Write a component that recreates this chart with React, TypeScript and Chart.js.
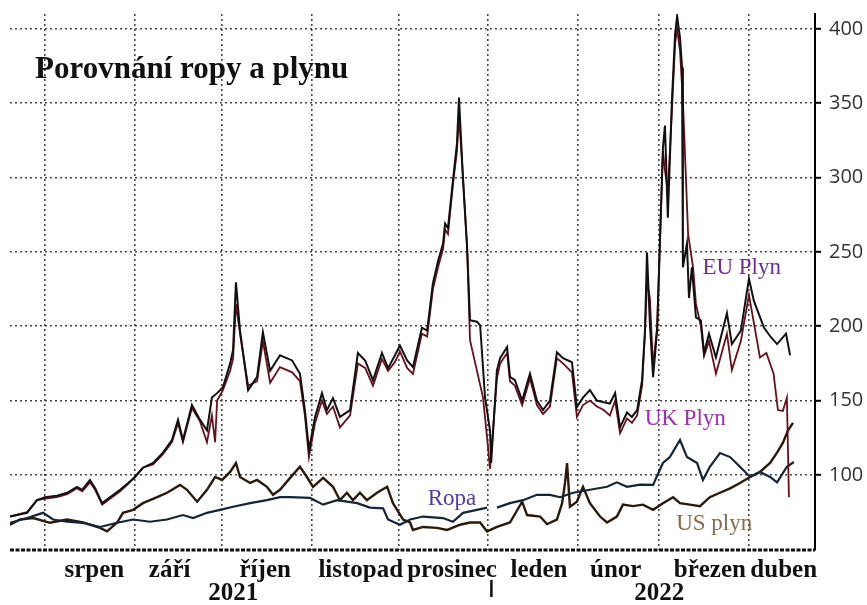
import { useEffect, useRef } from 'react';
import { Chart, registerables } from 'chart.js';

Chart.register(...registerables);

// x values are days counted from 1 July 2021
const titleText = 'Porovnání ropy a plynu';
const monthStartDays = [31, 62, 92, 123, 153, 184, 215, 243, 274];
const monthLabels = ['srpen', 'září', 'říjen', 'listopad', 'prosinec', 'leden', 'únor', 'březen', 'duben'];
const monthLabelDays = [48, 74, 107, 140, 171.5, 201.5, 228, 260.5, 286];
const yearLabels = ['2021', '2022'];
const yearLabelDays = [96, 243];
const yearBreakDay = 185;
const yTicks = [100, 150, 200, 250, 300, 350, 400];

const euDays = [18.9, 24.8, 28.2, 31, 35.1, 38.6, 42, 43.8, 46.5, 48.3,
  50.7, 53.4, 56.9, 59.7, 62.1, 64.8, 68.3, 71.7, 74.8, 76.9,
  78.6, 81.7, 84.5, 86.9, 88.6, 90.4, 92.4, 94.9, 95.9, 96.9,
  98.3, 101.1, 104.2, 106.2, 108.7, 112.1, 116.3, 119, 120.7, 122.1,
  124.2, 126.6, 128.3, 130.4, 132.8, 136.3, 139, 141.5, 144.2, 147.3,
  149.4, 151.8, 153.5, 156, 158, 161.1, 162.9, 164.9, 166.7, 168.4,
  169.1, 170.1, 171.8, 173.2, 173.9, 175.3, 176.7, 177.7, 180.1, 181.2,
  182.9, 184.6, 185, 187, 188.1, 190.5, 191.5, 193.2, 195.7, 198.4,
  200.8, 202.9, 205.3, 207.7, 209.8, 212.9, 214.6, 216.7, 219.1, 221.5,
  223.6, 226, 227.8, 229.5, 231.9, 233.6, 235.4, 237.1, 238.1, 238.8,
  239.8, 240.9, 242.3, 244.3, 245, 246, 247.4, 248.5, 249.2, 250.2,
  250.9, 251.2, 252.6, 253.3, 254.3, 255.7, 257.4, 258.5, 260.2, 262.6,
  264.3, 266.4, 268.1, 271.2, 274, 275.7, 279.2, 281.6, 283.7, 286.8,
  288.2];
const euValues = [72, 74.5, 83, 85, 86, 88, 92, 90, 96.6, 91,
  81, 85, 90, 94.6, 98.6, 104.7, 108, 115, 123.5, 137,
  123.5, 147, 137, 130, 152, 155, 159, 175, 184, 229.5,
  197, 157, 166, 196, 170, 180.5, 177, 168, 143.6, 116.8,
  139, 155, 143.6, 151.6, 139, 143.6, 182, 177, 163.7, 182,
  171.8, 180.5, 187, 177, 172.5, 199, 197, 229, 244, 255.6,
  269, 266, 298, 322.8, 353.8, 298, 253, 204, 203, 200.6,
  152, 130, 108, 170.5, 178.5, 186, 166, 163.7, 150, 168,
  150, 143.6, 150, 182.5, 178.5, 175.8, 145.6, 152, 157, 150,
  149, 148, 155, 132, 142, 139, 143.6, 163.7, 197, 249.6,
  202, 165.8, 197, 320, 335, 273, 351.6, 396.5, 408.6, 394,
  374, 239.6, 255.6, 219, 239.6, 206, 204, 182, 195, 179,
  192.6, 208.7, 188, 197, 232, 217, 199, 192.6, 188, 195,
  180.5];

const ukDays = [18.9, 24.8, 28.2, 31, 35.1, 38.6, 42, 43.8, 46.5, 48.3,
  50.7, 53.4, 56.9, 59.7, 62.1, 64.8, 68.3, 71.7, 74.8, 76.9,
  78.6, 81.7, 84.5, 86.9, 88.6, 89.7, 90.4, 92.4, 94.9, 95.9,
  96.9, 98.3, 101.1, 104.2, 106.2, 108.7, 112.1, 116.3, 119, 120.7,
  122.1, 124.2, 126.6, 128.3, 130.4, 132.8, 136.3, 139, 141.5, 144.2,
  147.3, 149.4, 151.8, 153.5, 156, 158, 161.1, 162.9, 164.9, 166.7,
  168.4, 169.1, 170.1, 171.8, 173.2, 173.9, 175.3, 176.7, 177.7, 180.1,
  182.2, 183.9, 184.6, 187, 188.1, 190.5, 191.5, 193.2, 195.7, 198.4,
  200.8, 202.9, 205.3, 207.7, 209.8, 212.9, 214.6, 216.7, 219.1, 221.5,
  223.6, 226, 227.8, 229.5, 231.9, 233.6, 235.4, 237.1, 238.1, 238.8,
  239.8, 240.9, 242.3, 244.3, 245, 246, 247.4, 248.5, 249.2, 250.2,
  251.2, 253, 254.7, 255.7, 257.4, 258.5, 260.2, 262.6, 264.3, 266.4,
  268.1, 271.2, 274, 277.8, 280, 282.5, 284, 285.7, 287.1, 287.8];
const ukValues = [72, 75, 83, 84, 85, 87, 91, 89, 95, 90,
  80, 84, 89, 94, 99, 105, 107, 114, 122, 135,
  122, 145, 136, 122, 140, 122, 150, 157, 170, 178,
  215, 195, 160, 163, 190, 162, 172.5, 169, 163, 140,
  112, 135, 150, 141, 146, 132, 140, 175, 172, 160,
  178, 170, 176, 183, 172, 168, 195, 193, 225, 240,
  252, 265, 262, 295, 318, 342, 300, 253, 190.6, 170,
  152, 119, 104, 165, 175, 182, 163, 160, 147, 165,
  147, 141, 146, 178.5, 175, 169, 139, 147, 150, 146,
  144, 140, 150, 128, 138, 135, 140, 160, 195, 230,
  219, 172.5, 200, 318, 305, 290, 345, 390, 400, 385,
  351.6, 262, 239.6, 215, 200, 180, 190, 168, 180, 195,
  170.5, 190, 221, 179, 182, 168, 143.6, 143, 152, 85];

const ropaDays = [18.9, 24.8, 30.3, 33.8, 38.6, 44.1, 50, 55.9, 61.4, 67.2,
  73.1, 78.6, 82.1, 86.9, 91.4, 95.9, 101.8, 107.6, 112.1, 115.6,
  122.5, 127, 131.8, 138.7, 143.2, 147.7, 149.4, 153.5, 157, 161.5,
  168.4, 171.8, 175.3, 180.1, 183.6, 185.5, 187, 191.5, 196, 200.8,
  205.3, 208.8, 213.3, 219.1, 225, 228.4, 231.9, 236.4, 240.9, 244.3,
  246.7, 250.2, 252.6, 256.1, 258.1, 260.5, 264, 267.5, 270.9, 274.4,
  277.8, 281.3, 283.7, 287.1, 289.5];
const ropaValues = [67.8, 71, 74.5, 70, 68.5, 67.8, 65, 67.8, 70, 68.5,
  70, 73, 71, 74.5, 76.5, 78.6, 81, 83, 85, 85,
  84.5, 80, 83, 81, 78, 77.5, 70, 66.5, 70, 72,
  71, 68.5, 74.5, 76.5, 78, null, 78, 81, 83, 86.6,
  86.6, 85, 88, 90, 92, 95, 92, 93.5, 93.3, 108,
  112, 123.5, 112, 108, 96.6, 105.5, 114.7, 112, 105.5, 98.6,
  102, 98.6, 95, 105.5, 108.7];

const usDays = [18.9, 22.4, 26.9, 32.7, 38.6, 44.1, 50, 52.4, 55.9, 57.9,
  61.4, 64.8, 69.7, 73.1, 77.6, 80, 83.5, 86.9, 89.7, 92.1,
  94.9, 96.9, 98.3, 101.8, 104.2, 107.6, 109.7, 112.1, 115.6, 119,
  121.4, 123.5, 127, 130.4, 132.8, 135.2, 137.3, 139.7, 142.1, 145.6,
  149.1, 151.1, 154.6, 157, 158, 161.5, 166.3, 169.8, 174.3, 177.7,
  181.2, 183.6, 187, 191.5, 195.7, 197.4, 201.9, 204.3, 207.7, 209.5,
  210.5, 211.2, 212.2, 214.6, 216.7, 219.1, 222.6, 225, 228.4, 230.5,
  234, 237.4, 240.9, 244.3, 247.8, 250.2, 253.6, 257.1, 260.5, 264,
  267.5, 270.9, 274.4, 277.8, 281.3, 283.7, 285.7, 287.5, 289.2];
const usValues = [66.5, 70, 71, 67.8, 70, 68, 64.4, 62, 68, 74.5,
  76.5, 81, 85, 88, 93.3, 90, 82, 90, 98.6, 96.6,
  102, 108, 98.6, 94.6, 96.6, 92, 86.6, 90, 98, 105.5,
  98.6, 92, 98, 92, 83, 88, 83, 88, 83, 88,
  92, 81, 70, 68, 63, 65, 64.4, 63, 66.5, 68,
  68, 62, 65, 68, 82, 73, 72, 67, 70, 81,
  94.6, 108, 78.6, 82, 92, 81, 72, 68, 72, 80,
  79, 80, 76.5, 81, 85, 81, 80, 79, 85, 88,
  91, 94.6, 98.6, 102, 108, 115, 121.5, 130, 135];

const seriesNames = ['EU Plyn', 'UK Plyn', 'Ropa', 'US plyn'];

const toPoints = (days: number[], vals: (number | null)[]) =>
  days.map((d, i) => ({ x: d, y: vals[i] }));

// label anchors in data coordinates (day, value)
const annotations = [
  { text: 'EU Plyn', day: 271.5, value: 235, color: '#6e2f94' },
  { text: 'UK Plyn', day: 252, value: 133.5, color: '#a22cc0' },
  { text: 'Ropa', day: 171.5, value: 80, color: '#4a3db5' },
  { text: 'US plyn', day: 262, value: 63, color: '#8a6a4c' },
];

const overlayPlugin = {
  id: 'overlay',
  afterDraw(chart: any) {
    const { ctx, chartArea, scales } = chart;
    const xs = scales.x;
    const ys = scales.y;
    ctx.save();
    // bottom axis line (dashed)
    ctx.strokeStyle = '#111';
    ctx.lineWidth = 3;
    ctx.setLineDash([4, 1.5]);
    ctx.beginPath();
    ctx.moveTo(chartArea.left, chartArea.bottom);
    ctx.lineTo(chartArea.right, chartArea.bottom);
    ctx.stroke();
    ctx.setLineDash([]);

    // title
    ctx.fillStyle = '#111';
    ctx.font = 'bold 31px "Liberation Serif"';
    ctx.textAlign = 'left';
    ctx.textBaseline = 'alphabetic';
    ctx.fillText(titleText, chartArea.left + 25, chartArea.top + 64);

    // month labels
    ctx.font = 'bold 25px "Liberation Serif"';
    ctx.textAlign = 'center';
    monthLabels.forEach((m, i) => {
      ctx.fillText(m, xs.getPixelForValue(monthLabelDays[i]), chartArea.bottom + 27);
    });
    yearLabels.forEach((yl, i) => {
      ctx.fillText(yl, xs.getPixelForValue(yearLabelDays[i]), chartArea.bottom + 50);
    });
    ctx.fillRect(xs.getPixelForValue(yearBreakDay) - 1, chartArea.bottom + 30, 2.5, 17);

    // series labels
    ctx.font = '23px "Liberation Serif"';
    annotations.forEach((a) => {
      ctx.fillStyle = a.color;
      ctx.fillText(a.text, xs.getPixelForValue(a.day), ys.getPixelForValue(a.value));
    });
    ctx.restore();
  },
};

export default function App() {
  const canvasRef = useRef<HTMLCanvasElement | null>(null);

  useEffect(() => {
    document.body.style.margin = '0';
    const canvas = canvasRef.current;
    if (!canvas) return;
    const gridStyle = {
      color: 'rgba(40,40,40,0.85)',
      lineWidth: 1.6,
    };
    const chart = new Chart(canvas, {
      type: 'line',
      data: {
        datasets: [
          { label: seriesNames[0], data: toPoints(euDays, euValues), borderColor: '#111111', borderWidth: 2 },
          { label: seriesNames[1], data: toPoints(ukDays, ukValues), borderColor: '#6a0f1a', borderWidth: 1.8 },
          { label: seriesNames[2], data: toPoints(ropaDays, ropaValues), borderColor: '#142538', borderWidth: 2.2 },
          { label: seriesNames[3], data: toPoints(usDays, usValues), borderColor: '#2b1a0c', borderWidth: 2.4 },
        ].map((d) => ({ ...d, pointRadius: 0, tension: 0, fill: false, spanGaps: false })),
      },
      options: {
        animation: false,
        responsive: false,
        maintainAspectRatio: false,
        devicePixelRatio: 1,
        layout: { padding: { left: 10, top: 14, right: 0, bottom: 0 } },
        plugins: { legend: { display: false }, tooltip: { enabled: false }, title: { display: false } },
        scales: {
          x: {
            type: 'linear',
            position: 'bottom',
            min: 18.9,
            max: 296.8,
            afterBuildTicks: (s: any) => { s.ticks = monthStartDays.map((v) => ({ value: v })); },
            afterFit: (s: any) => { s.height = 55; s.paddingLeft = 0; s.paddingRight = 0; },
            ticks: { display: false },
            grid: { ...gridStyle, drawTicks: false },
            border: { display: false, dash: [2, 3] },
          },
          y: {
            type: 'linear',
            position: 'right',
            min: 49.5,
            max: 410,
            afterBuildTicks: (s: any) => { s.ticks = yTicks.map((v) => ({ value: v })); },
            afterFit: (s: any) => { s.width = 52; s.paddingTop = 0; s.paddingBottom = 0; },
            ticks: {
              color: '#333',
              padding: 8,
              font: { family: '"Open Sans"', size: 20 },
            },
            grid: { ...gridStyle, drawTicks: true, tickLength: 6, tickColor: '#000', tickWidth: 2, tickBorderDash: [] },
            border: { display: true, color: '#000', width: 2, dash: [2, 3] },
          },
        },
      },
      plugins: [overlayPlugin],
    } as any);
    return () => chart.destroy();
  }, []);

  return <canvas ref={canvasRef} width={867} height={605} style={{ display: 'block', width: 867, height: 605 }} />;
}
